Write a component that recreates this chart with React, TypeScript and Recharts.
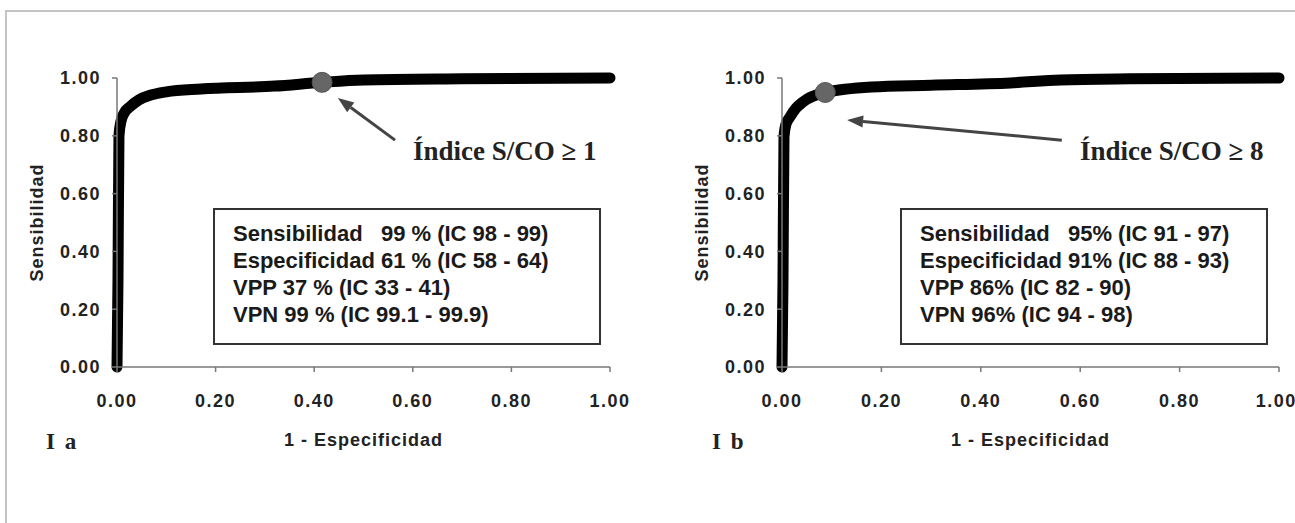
import React from 'react';
import { LineChart, Line, XAxis, YAxis, ReferenceDot, ReferenceLine, Label } from 'recharts';

// 1 - especificidad (x) and sensibilidad (y)
const fprA = [0, 0.002, 0.004, 0.008, 0.015, 0.026, 0.045, 0.067, 0.1, 0.17, 0.32, 0.416, 0.5, 0.7, 1.0];
const sensA = [0, 0.3, 0.8, 0.85, 0.88, 0.9, 0.925, 0.94, 0.952, 0.962, 0.972, 0.985, 0.993, 0.997, 1.0];
const fprB = [0, 0.002, 0.004, 0.008, 0.016, 0.028, 0.042, 0.087, 0.18, 0.3, 0.46, 0.56, 0.7, 1.0];
const sensB = [0, 0.3, 0.796, 0.84, 0.865, 0.895, 0.917, 0.95, 0.969, 0.975, 0.983, 0.993, 0.997, 1.0];

const cutA = { x: 0.416, y: 0.985 };
const cutB = { x: 0.087, y: 0.95 };

const ticks = [0, 0.2, 0.4, 0.6, 0.8, 1.0];

const statsA = ['Sensibilidad   99 % (IC 98 - 99)', 'Especificidad 61 % (IC 58 - 64)', 'VPP 37 % (IC 33 - 41)', 'VPN 99 % (IC 99.1 - 99.9)'];
const statsB = ['Sensibilidad   95% (IC 91 - 97)', 'Especificidad 91% (IC 88 - 93)', 'VPP 86% (IC 82 - 90)', 'VPN 96% (IC 94 - 98)'];

const sans = '"Liberation Sans", Arial, sans-serif';
const serif = '"Liberation Serif", "Times New Roman", serif';

const fmt = (v: number) => v.toFixed(2);

const tickStyle = { fill: '#222', fontSize: 18, fontWeight: 'bold', fontFamily: sans, letterSpacing: 1.5 };
const titleStyle = { fill: '#222', fontSize: 18, fontWeight: 'bold', fontFamily: sans, letterSpacing: 1 };

// line + filled head, drawn in pixel space from the segment's scaled ends
const arrowShape = (props: any) => {
  const { x1, y1, x2, y2 } = props;
  const ang = Math.atan2(y2 - y1, x2 - x1);
  const len = 16;
  const w = 6;
  const bx = x2 - len * Math.cos(ang);
  const by = y2 - len * Math.sin(ang);
  const px = -Math.sin(ang) * w;
  const py = Math.cos(ang) * w;
  return (
    <g>
      <line x1={x1} y1={y1} x2={bx} y2={by} stroke="#444" strokeWidth={3} />
      <polygon points={`${x2},${y2} ${bx + px},${by + py} ${bx - px},${by - py}`} fill="#444" />
    </g>
  );
};

function RocPanel({ fpr, sens, cut, arrow, width, right }: any) {
  const data = fpr.map((x: number, i: number) => ({ fpr: x, sens: sens[i] }));
  return (
    <LineChart width={width} height={470} data={data} margin={{ top: 78, right, left: 17, bottom: 43 }}>
      <XAxis
        dataKey="fpr"
        type="number"
        domain={[0, 1]}
        ticks={ticks}
        tickFormatter={fmt}
        height={60}
        tickSize={5}
        tickMargin={22}
        stroke="#777"
        strokeWidth={1.5}
        tick={tickStyle}
      >
        <Label value="1 - Especificidad" position="bottom" offset={6} style={titleStyle} />
      </XAxis>
      <YAxis
        dataKey="sens"
        type="number"
        domain={[0, 1]}
        ticks={ticks}
        tickFormatter={fmt}
        width={100}
        tickSize={5}
        tickMargin={11}
        stroke="#777"
        strokeWidth={1.5}
        tick={tickStyle}
      >
        <Label value="Sensibilidad" angle={-90} position="center" dx={-30} style={{ ...titleStyle, textAnchor: 'middle' }} />
      </YAxis>
      <Line
        type="monotone"
        dataKey="sens"
        stroke="#000"
        strokeWidth={11}
        strokeLinecap="round"
        strokeLinejoin="round"
        dot={false}
        isAnimationActive={false}
      />
      <ReferenceDot x={cut.x} y={cut.y} r={10} fill="#666" stroke="#555" strokeWidth={1} />
      <ReferenceLine segment={arrow} shape={arrowShape} />
    </LineChart>
  );
}

export default function App() {
  const boxStyle = (left: number, width: number): React.CSSProperties => ({
    position: 'absolute',
    left,
    top: 208,
    width,
    height: 137,
    boxSizing: 'border-box',
    border: '2px solid #333',
    background: '#fff',
    padding: '10px 0 0 18px',
    fontFamily: sans,
    fontSize: 22,
    fontWeight: 'bold',
    color: '#1a1a1a',
    lineHeight: '27px',
    whiteSpace: 'pre',
  });
  const noteStyle = (left: number): React.CSSProperties => ({
    position: 'absolute',
    left,
    top: 136,
    fontFamily: serif,
    fontSize: 27,
    fontWeight: 'bold',
    color: '#222',
    whiteSpace: 'pre',
  });
  const panelTag = (left: number): React.CSSProperties => ({
    position: 'absolute',
    left,
    top: 429,
    fontFamily: serif,
    fontSize: 23,
    fontWeight: 'bold',
    letterSpacing: 2,
    color: '#222',
  });
  return (
    <div style={{ position: 'fixed', left: 0, top: 0, width: 1295, height: 523, background: '#fff', overflow: 'hidden' }}>
      <div style={{ position: 'absolute', left: 5, top: 10, width: 1400, height: 700, border: '2px solid #c4c4c4' }} />
      <div style={{ position: 'absolute', left: 0, top: 0 }}>
        <RocPanel fpr={fprA} sens={sensA} cut={cutA} width={650} right={40}
          arrow={[{ x: 0.564, y: 0.785 }, { x: 0.448, y: 0.931 }]} />
      </div>
      <div style={{ position: 'absolute', left: 665, top: 0 }}>
        <RocPanel fpr={fprB} sens={sensB} cut={cutB} width={630} right={16}
          arrow={[{ x: 0.563, y: 0.785 }, { x: 0.131, y: 0.855 }]} />
      </div>
      <div style={boxStyle(213, 388)}>{statsA.join('\n')}</div>
      <div style={boxStyle(900, 368)}>{statsB.join('\n')}</div>
      <div style={noteStyle(413)}>Índice S/CO ≥ 1</div>
      <div style={noteStyle(1080)}>Índice S/CO ≥ 8</div>
      <div style={panelTag(46)}>I a</div>
      <div style={panelTag(712)}>I b</div>
    </div>
  );
}
